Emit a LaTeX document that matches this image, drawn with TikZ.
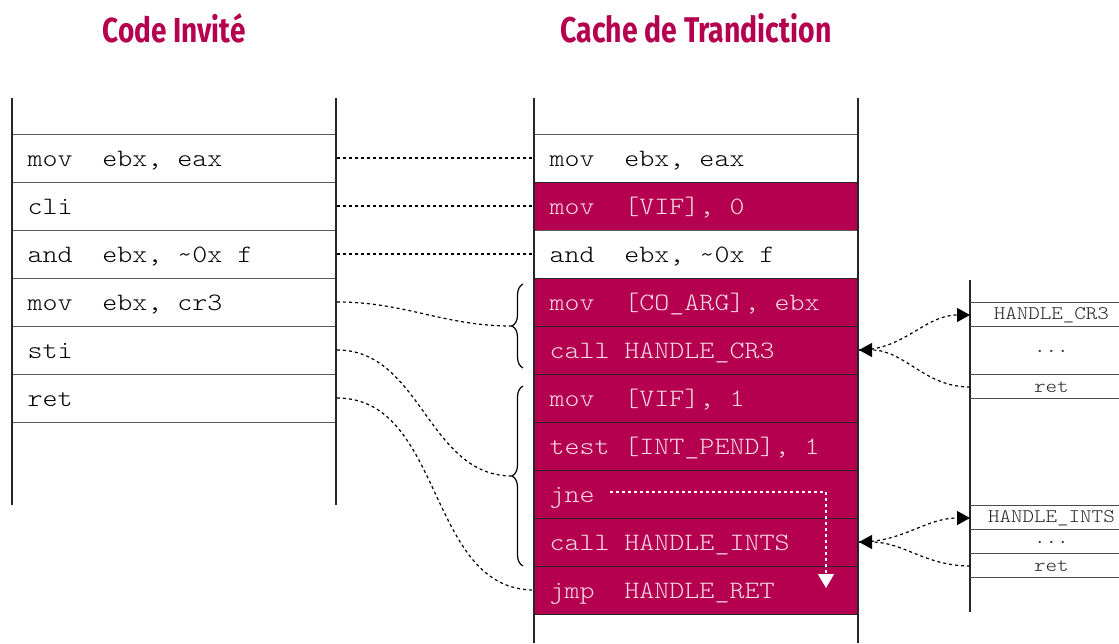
\documentclass[tikz,border=0pt]{standalone}
\usepackage{graphicx}
\usepackage{fontspec}
\setmonofont{Latin Modern Mono Light}[FakeStretch=1.143]
\newfontfamily\titlefont{Fira Sans}
\usetikzlibrary{arrows.meta,decorations.pathreplacing}
\definecolor{crim}{HTML}{B4004E}
\definecolor{pinktext}{HTML}{F6D8E3}
\newcommand{\blank}{\hspace*{7.5pt}}
\begin{document}
\begin{tikzpicture}[x=0.5pt,y=-0.5pt,
  row/.style={minimum width=162pt, minimum height=24pt, text width=147pt,
    inner xsep=7.5pt, inner ysep=0pt, align=left, anchor=west,
    text height=9pt, text depth=1pt,
    font=\ttfamily\fontsize{12.5pt}{14pt}\selectfont, draw=black!65, line width=0.5pt},
  hot/.style={row, fill=crim, text=pinktext, draw=black!85},
  hrow/.style={minimum width=81pt, minimum height=12pt, inner sep=0pt, anchor=west,
    font=\ttfamily\fontsize{9.6pt}{10pt}\selectfont, text=black!85},
  colline/.style={line width=1pt, draw=black!85},
  thinline/.style={line width=0.5pt, draw=black!70},
  link/.style={line width=0.6pt, dash pattern=on 1.5pt off 1.5pt},
  tip/.style={-{Triangle[length=6.5pt,width=7pt]}},
  title/.style={anchor=base, text=crim}
]
\useasboundingbox (0,0) rectangle (1119,643);

% titles
\node[title] (t1) at (174,42.5) {\resizebox{71.5pt}{14.5pt}{\titlefont\bfseries Code Invité}};
\node[title] (t2) at (696,42.5) {\resizebox{135.5pt}{14.5pt}{\titlefont\bfseries Cache de Trandiction}};

% guest code
\node[row] (g1) at (12,158) {mov\blank\blank ebx,\blank eax};
\node[row] (g2) at (12,206) {cli};
\node[row] (g3) at (12,254) {and\blank\blank ebx,\blank\textasciitilde0x\blank f};
\node[row] (g4) at (12,302) {mov\blank\blank ebx,\blank cr3};
\node[row] (g5) at (12,350) {sti};
\node[row] (g6) at (12,398) {ret};
\draw[colline] (12,98) -- (12,505);
\draw[colline] (336,98) -- (336,505);

% translation cache
\node[row] (c1) at (534,158) {mov\blank\blank ebx,\blank eax};
\node[hot] (c2) at (534,206) {mov\blank\blank [VIF],\blank 0};
\node[row] (c3) at (534,254) {and\blank\blank ebx,\blank\textasciitilde0x\blank f};
\node[hot] (c4) at (534,302) {mov\blank\blank [CO\_ARG],\blank ebx};
\node[hot] (c5) at (534,350) {call\blank HANDLE\_CR3};
\node[hot] (c6) at (534,398) {mov\blank\blank [VIF],\blank 1};
\node[hot] (c7) at (534,446) {test\blank [INT\_PEND],\blank 1};
\node[hot] (c8) at (534,494) {jne};
\node[hot] (c9) at (534,542) {call\blank HANDLE\_INTS};
\node[hot] (c10) at (534,590) {jmp\blank\blank HANDLE\_RET};
\draw[colline] (534,98) -- (534,643);
\draw[colline] (858,98) -- (858,643);

% straight links
\draw[link] (g1.east) -- (c1.west);
\draw[link] (g2.east) -- (c2.west);
\draw[link] (g3.east) -- (c3.west);

% braces
\draw[line width=0.6pt, decorate, decoration={brace, amplitude=5.5pt}] (523,368) -- (523,284);
\draw[line width=0.6pt, decorate, decoration={brace, amplitude=5.5pt}] (523,566) -- (523,386);
\coordinate (b1) at (512,326);
\coordinate (b2) at (512,476);

% curved links
\draw[link] (g4.east) to[out=0,in=180] (b1);
\draw[link] (g5.east) to[out=0,in=180] (b2);
\draw[link] (g6.east) to[out=0,in=180] (c10.west);

% jne white arrow
\coordinate (j1) at (610,492);
\coordinate (j2) at (826,588);
\draw[white, line width=0.6pt, dash pattern=on 1.5pt off 1.5pt, -{Triangle[length=7pt,width=8pt,fill=white]}] (j1) -| (j2);

% handler CR3
\draw[colline] (970,280) -- (970,612);
\foreach \yy in {302,326,374,398} \draw[thinline] (970,\yy) -- (1119,\yy);
\node[hrow] (hr1) at (970,315) {\makebox[81pt]{HANDLE\_CR3}};
\node[hrow] (hr2) at (970,351) {\makebox[81pt]{...}};
\node[hrow] (hr3) at (970,387) {\makebox[81pt]{ret}};

% handler INTS
\foreach \yy in {505,529,553,577} \draw[thinline] (970,\yy) -- (1119,\yy);
\node[hrow] (hi1) at (970,518) {\makebox[81pt]{HANDLE\_INTS}};
\node[hrow] (hi2) at (970,542) {\makebox[81pt]{...}};
\node[hrow] (hi3) at (970,566) {\makebox[81pt]{ret}};

% call arrows
\draw[link, tip] (c5.east) to[out=0,in=180] (hr1.west);
\draw[link, tip] (hr3.west) to[out=180,in=0] (c5.east);
\draw[link, tip] (c9.east) to[out=0,in=180] (hi1.west);
\draw[link, tip] (hi3.west) to[out=180,in=0] (c9.east);
\end{tikzpicture}
\end{document}
